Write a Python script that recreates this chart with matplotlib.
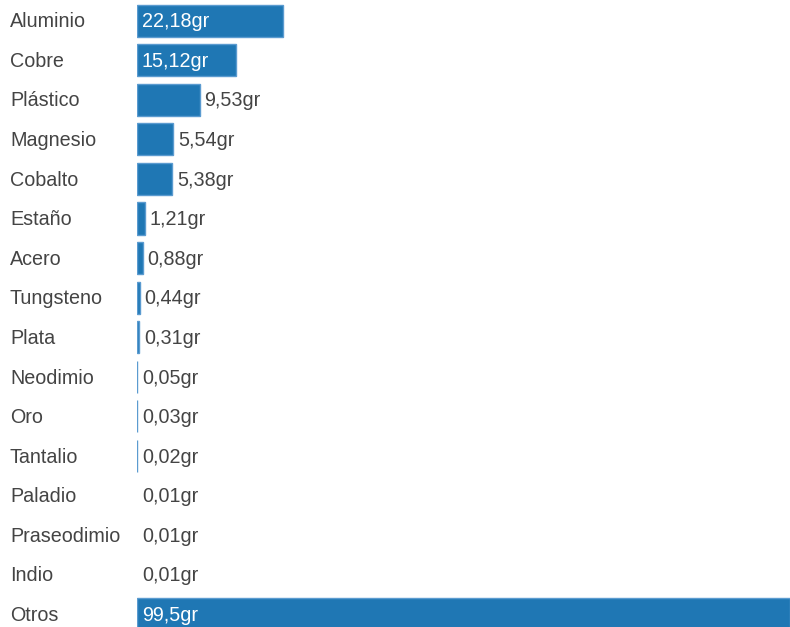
import numpy as np
import matplotlib
matplotlib.use("Agg")
import matplotlib.pyplot as plt
import matplotlib.transforms as mtransforms

plt.rcParams['font.family'] = ['Liberation Sans', 'DejaVu Sans']

materials = ["Aluminio", "Cobre", "Plástico", "Magnesio", "Cobalto", "Estaño",
             "Acero", "Tungsteno", "Plata", "Neodimio", "Oro", "Tantalio",
             "Paladio", "Praseodimio", "Indio", "Otros"]
grams = [22.18, 15.12, 9.53, 5.54, 5.38, 1.21, 0.88, 0.44, 0.31, 0.05, 0.03, 0.02,
         0.01, 0.01, 0.01, 99.5]

W, H = 790, 627
fig = plt.figure(figsize=(W / 100, H / 100), dpi=100)
ax = fig.add_axes([137 / W, 0, 653 / W, 1])

y = np.arange(len(materials))
blue = "#1f77b4"
# very small bars (< 0.02) do not show at all in the original
edges = ["#5b9bd0" if g >= 0.02 else "none" for g in grams]
ax.barh(y, grams, height=0.81, color=blue, edgecolor=edges, linewidth=1.0)

ax.set_xlim(0, max(grams))
ax.set_ylim(15.32, -0.52)
ax.axis("off")

fs = 14.2
# category names, left aligned near the figure edge
trans = mtransforms.blended_transform_factory(fig.transFigure, ax.transData)
for yi, name in zip(y, materials):
    fig.text(10 / W, yi + 0.03, name, transform=trans, ha="left", va="center",
             fontsize=fs, color="#444444")

# value labels: inside when the bar is wide enough
for yi, g in zip(y, grams):
    txt = f"{g:g}".replace(".", ",") + "gr"
    if g > 14:
        ax.annotate(txt, (0, yi + 0.03), xytext=(3.4, 0), textcoords="offset points",
                    ha="left", va="center", fontsize=fs, color="white")
    else:
        ax.annotate(txt, (g, yi + 0.03), xytext=(3.4, 0), textcoords="offset points",
                    ha="left", va="center", fontsize=fs, color="#444444")

fig.savefig("out.png", dpi=100)
